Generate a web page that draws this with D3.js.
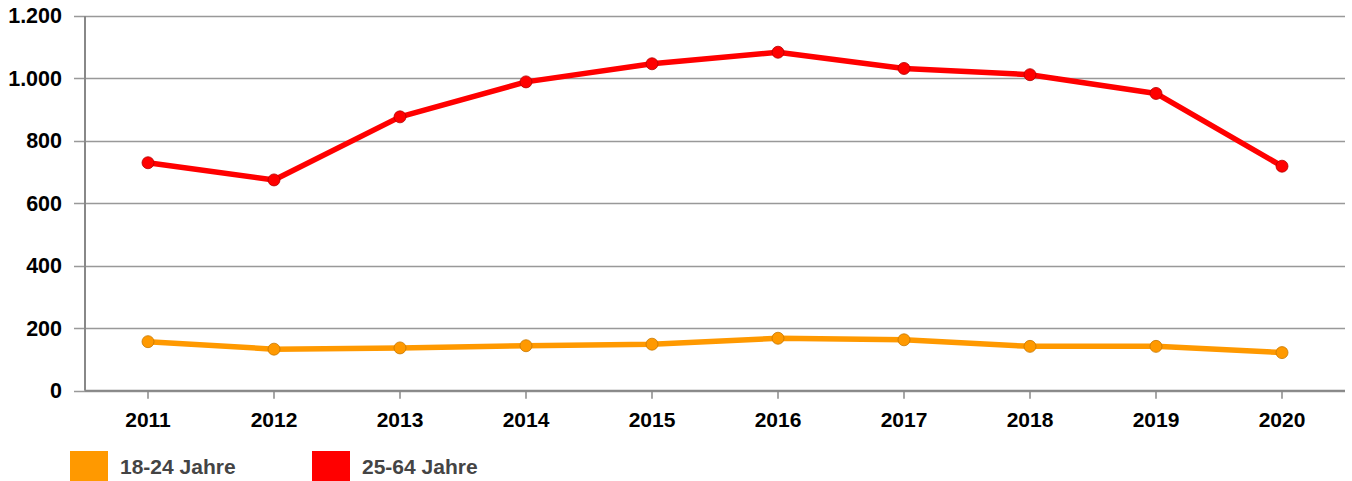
<!DOCTYPE html>
<html>
<head>
<meta charset="utf-8">
<script src="https://cdn.jsdelivr.net/npm/d3@7"></script>
<style>
  body { margin: 0; background: #fff; }
  svg { display: block; font-family: "Liberation Sans", Arial, sans-serif; }
</style>
</head>
<body>
<svg width="1352" height="481"></svg>
<script>
const years = ["2011", "2012", "2013", "2014", "2015", "2016", "2017", "2018", "2019", "2020"];
const youngValues = [157, 133, 137, 144, 149, 168, 163, 142, 142, 122];
const adultValues = [730, 675, 877, 989, 1047, 1084, 1032, 1012, 952, 719];
const seriesNames = ["18-24 Jahre", "25-64 Jahre"];
const yTicks = [0, 200, 400, 600, 800, 1000, 1200];

const series = [
  { name: seriesNames[0], values: youngValues, color: "#ff9900", stroke: "#c77700" },
  { name: seriesNames[1], values: adultValues, color: "#ff0000", stroke: "#b30000" }
];

const svg = d3.select("svg"),
  margin = { top: 16, right: 7, bottom: 90, left: 85 },
  width = +svg.attr("width") - margin.left - margin.right,
  height = 390.7 - margin.top,
  g = svg.append("g").attr("transform", `translate(${margin.left},${margin.top})`);

const x = d3.scaleBand().domain(years).range([0, width]).padding(0);
const y = d3.scaleLinear().domain([0, 1200]).range([height, 0]);
const fmt = d3.formatLocale({ decimal: ",", thousands: ".", grouping: [3], currency: ["", "€"] }).format(",");

// Gitternetz
g.append("g")
  .selectAll("line")
  .data(yTicks)
  .join("line")
  .attr("x1", -11)
  .attr("x2", width)
  .attr("y1", (d) => Math.round(y(d)) + 0.5)
  .attr("y2", (d) => Math.round(y(d)) + 0.5)
  .attr("stroke", "#999")
  .attr("stroke-width", 1.5);

// Y-Achse
const yAxis = g.append("g")
  .call(d3.axisLeft(y).tickValues(yTicks).tickFormat(fmt).tickSize(0).tickPadding(23));
yAxis.select(".domain").remove();
yAxis.selectAll("text")
  .attr("font-size", 21.5)
  .attr("font-weight", "bold")
  .attr("fill", "#000")
  .attr("font-family", "Liberation Sans, Arial, sans-serif");

g.append("line")
  .attr("x1", 0).attr("x2", 0)
  .attr("y1", 0).attr("y2", height)
  .attr("stroke", "#888")
  .attr("stroke-width", 2);

// X-Achse
const xAxis = g.append("g")
  .attr("transform", `translate(0,${height})`)
  .call(d3.axisBottom(x).tickSize(8).tickPadding(13));
xAxis.select(".domain").remove();
xAxis.selectAll(".tick line").attr("stroke", "#888").attr("stroke-width", 1.5);
xAxis.selectAll("text")
  .attr("font-size", 21)
  .attr("font-weight", "bold")
  .attr("fill", "#000")
  .attr("font-family", "Liberation Sans, Arial, sans-serif");

g.append("line")
  .attr("x1", 0).attr("x2", width)
  .attr("y1", height).attr("y2", height)
  .attr("stroke", "#888")
  .attr("stroke-width", 2);

// Linien
const line = d3.line()
  .x((d, i) => x(years[i]) + x.bandwidth() / 2)
  .y((d) => y(d));

series.forEach((s) => {
  g.append("path")
    .datum(s.values)
    .attr("fill", "none")
    .attr("stroke", s.color)
    .attr("stroke-width", 5.5)
    .attr("stroke-linejoin", "round")
    .attr("d", line);

  g.append("g")
    .selectAll("circle")
    .data(s.values)
    .join("circle")
    .attr("cx", (d, i) => x(years[i]) + x.bandwidth() / 2)
    .attr("cy", (d) => y(d))
    .attr("r", 6)
    .attr("fill", s.color)
    .attr("stroke", s.stroke)
    .attr("stroke-width", 0.8);
});

// Legende
const legend = svg.append("g").attr("transform", "translate(70,451)");
const items = legend.selectAll("g")
  .data(series)
  .join("g")
  .attr("transform", (d, i) => `translate(${i * 242},0)`);
items.append("rect")
  .attr("width", 38)
  .attr("height", 30)
  .attr("fill", (d) => d.color);
items.append("text")
  .attr("x", 50)
  .attr("y", 16)
  .attr("dy", "0.35em")
  .attr("font-size", 21)
  .attr("font-weight", "bold")
  .attr("fill", "#444")
  .text((d) => d.name);
</script>
</body>
</html>
